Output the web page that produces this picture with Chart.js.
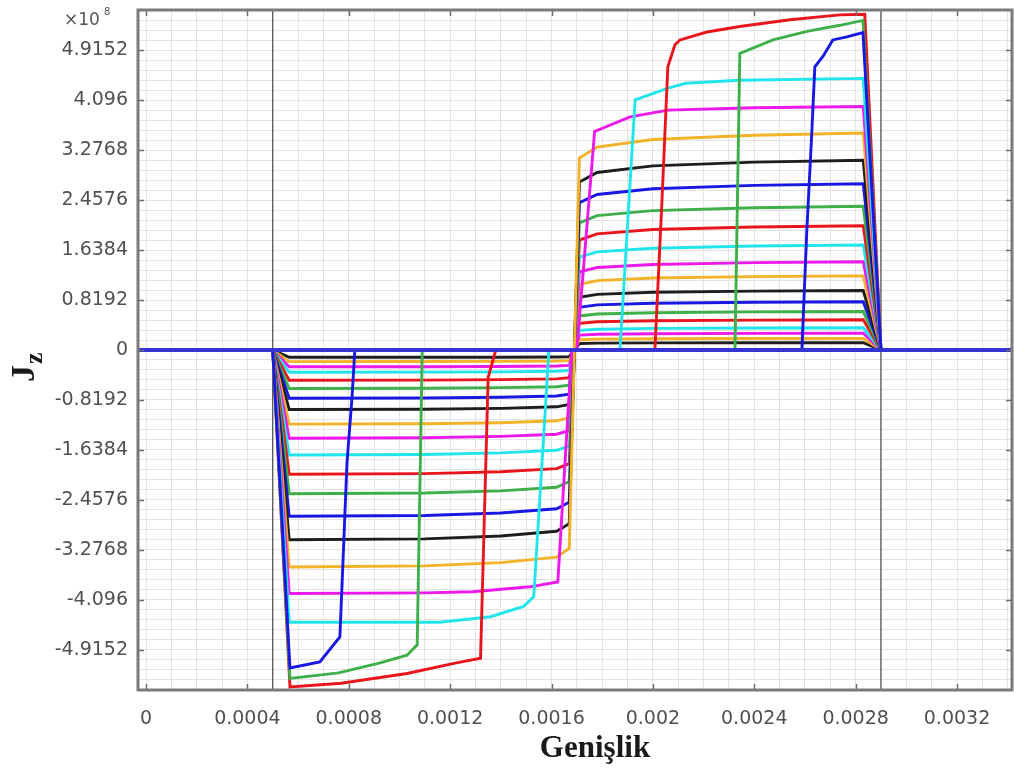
<!DOCTYPE html>
<html>
<head>
<meta charset="utf-8">
<script src="https://cdn.jsdelivr.net/npm/chart.js@4.4.1/dist/chart.umd.min.js"></script>
<style>
    html, body { margin: 0; padding: 0; background: #fff; }
    #wrap { width: 1014px; height: 771px; }
</style>
</head>
<body>
<div id="wrap"><canvas id="chart" width="1014" height="771"></canvas></div>
<script>
// axis range (x in metres, Jz in units of 1e8)
const xMin = -0.0000316, xMax = 0.003417;
const yMin = -5.5706, yMax = 5.5706;

const xTickValues = [0, 0.0004, 0.0008, 0.0012, 0.0016, 0.002, 0.0024, 0.0028, 0.0032];
const xTickLabels = ['0', '0.0004', '0.0008', '0.0012', '0.0016', '0.002', '0.0024', '0.0028', '0.0032'];
const yTickValues = [-4.9152, -4.096, -3.2768, -2.4576, -1.6384, -0.8192, 0, 0.8192, 1.6384, 2.4576, 3.2768, 4.096, 4.9152];
const yTickLabels = ['-4.9152', '-4.096', '-3.2768', '-2.4576', '-1.6384', '-0.8192', '0', '0.8192', '1.6384', '2.4576', '3.2768', '4.096', '4.9152'];

// conductor edges (thin vertical lines)
const edgeLeft = 0.0005, edgeRight = 0.0029;

// shared x grid for the fully penetrated profiles
const xGrid = [0, 0.0005, 0.000565, 0.0011, 0.0014, 0.00162, 0.00167, 0.00171, 0.00178, 0.002, 0.0024, 0.00283, 0.0029, 0.00342];

const jz01 = [0, 0, -0.12, -0.119, -0.118, -0.115, -0.11, 0.106, 0.112, 0.116, 0.119, 0.12, 0, 0];
const jz02 = [0, 0, -0.19, -0.189, -0.186, -0.181, -0.174, 0.168, 0.178, 0.184, 0.188, 0.19, 0, 0];
const jz03 = [0, 0, -0.275, -0.274, -0.27, -0.263, -0.252, 0.243, 0.257, 0.267, 0.272, 0.275, 0, 0];
const jz04 = [0, 0, -0.365, -0.363, -0.358, -0.349, -0.334, 0.323, 0.341, 0.354, 0.361, 0.365, 0, 0];
const jz05 = [0, 0, -0.495, -0.493, -0.485, -0.473, -0.453, 0.438, 0.463, 0.48, 0.49, 0.495, 0, 0];
const jz06 = [0, 0, -0.63, -0.627, -0.617, -0.602, -0.576, 0.558, 0.589, 0.611, 0.624, 0.63, 0, 0];
const jz07 = [0, 0, -0.79, -0.786, -0.774, -0.754, -0.723, 0.699, 0.739, 0.766, 0.782, 0.79, 0, 0];
const jz08 = [0, 0, -0.975, -0.97, -0.956, -0.931, -0.892, 0.863, 0.912, 0.946, 0.965, 0.975, 0, 0];
const jz09 = [0, 0, -1.215, -1.209, -1.191, -1.16, -1.112, 1.075, 1.136, 1.179, 1.203, 1.215, 0, 0];
const jz10 = [0, 0, -1.445, -1.438, -1.416, -1.38, -1.322, 1.279, 1.351, 1.402, 1.431, 1.445, 0, 0];
const jz11 = [0, 0, -1.72, -1.711, -1.686, -1.643, -1.574, 1.522, 1.608, 1.668, 1.703, 1.72, 0, 0];
const jz12 = [0, 0, -2.035, -2.025, -1.994, -1.943, -1.862, 1.801, 1.903, 1.974, 2.015, 2.035, 0, 0];
const jz13 = [0, 0, -2.355, -2.343, -2.308, -2.249, -2.155, 2.084, 2.202, 2.284, 2.331, 2.355, 0, 0];
const jz14 = [0, 0, -2.725, -2.711, -2.671, -2.602, -2.493, 2.412, 2.548, 2.643, 2.698, 2.725, 0, 0];
const jz15 = [0, 0, -3.11, -3.094, -3.048, -2.97, -2.846, 2.752, 2.908, 3.017, 3.079, 3.11, 0, 0];
const jz16 = [0, 0, -3.555, -3.537, -3.484, -3.395, -3.253, 3.146, 3.324, 3.448, 3.519, 3.555, 0, 0];

// partially penetrated profiles (own x points)
const jz17x = [0, 0.0005, 0.000565, 0.0011, 0.00129, 0.001515, 0.001625, 0.00168, 0.0017, 0.00177, 0.00191, 0.00206, 0.0024, 0.00283, 0.0029, 0.00342];
const jz17y = [0, 0, -3.99, -3.98, -3.96, -3.88, -3.8, 0, 0, 3.58, 3.82, 3.93, 3.97, 3.99, 0, 0];

const jz18x = [0, 0.0005, 0.000565, 0.00116, 0.00136, 0.00149, 0.00153, 0.00159, 0.00187, 0.00193, 0.00206, 0.00213, 0.00234, 0.00283, 0.0029, 0.00342];
const jz18y = [0, 0, -4.46, -4.46, -4.37, -4.2, -4.04, 0, 0, 4.1, 4.29, 4.37, 4.42, 4.45, 0, 0];

const jz19x = [0, 0.0005, 0.000568, 0.00077, 0.00103, 0.00122, 0.00132, 0.00135, 0.00138, 0.002008, 0.002036, 0.002059, 0.002087, 0.002107, 0.002213, 0.002343, 0.002541, 0.002738, 0.002836, 0.0029, 0.00342];
const jz19y = [0, 0, -5.52, -5.46, -5.3, -5.13, -5.05, -0.45, 0, 0, 2.46, 4.64, 5.0, 5.08, 5.21, 5.3, 5.41, 5.49, 5.5, 0, 0];

const jz20x = [0, 0.0005, 0.000568, 0.00076, 0.00092, 0.00103, 0.00107, 0.00109, 0.002324, 0.002343, 0.002474, 0.002608, 0.002738, 0.002829, 0.0029, 0.00342];
const jz20y = [0, 0, -5.38, -5.29, -5.13, -5.0, -4.83, 0, 0, 4.86, 5.08, 5.22, 5.32, 5.4, 0, 0];

const jz21x = [0, 0.0005, 0.000568, 0.000686, 0.000765, 0.000777, 0.000793, 0.000813, 0.000824, 0.002588, 0.002607, 0.002627, 0.002639, 0.002671, 0.00271, 0.002765, 0.002829, 0.0029, 0.00342];
const jz21y = [0, 0, -5.21, -5.11, -4.7, -3.49, -1.85, -0.77, 0, 0, 1.92, 3.56, 4.64, 4.81, 5.08, 5.13, 5.2, 0, 0];

const RED = '#e8161c', GREEN = '#3faf4a', BLUE = '#1818e2', CYAN = '#22e4ec',
    MAGENTA = '#ec18ec', ORANGE = '#f3b227', BLACK = '#1e1e1e';

const curves = [
    [xGrid, jz01, BLACK], [xGrid, jz02, ORANGE], [xGrid, jz03, MAGENTA], [xGrid, jz04, CYAN],
    [xGrid, jz05, RED], [xGrid, jz06, GREEN], [xGrid, jz07, BLUE], [xGrid, jz08, BLACK],
    [xGrid, jz09, ORANGE], [xGrid, jz10, MAGENTA], [xGrid, jz11, CYAN], [xGrid, jz12, RED],
    [xGrid, jz13, GREEN], [xGrid, jz14, BLUE], [xGrid, jz15, BLACK], [xGrid, jz16, ORANGE],
    [jz17x, jz17y, MAGENTA], [jz18x, jz18y, CYAN], [jz19x, jz19y, RED],
    [jz20x, jz20y, GREEN], [jz21x, jz21y, BLUE],
];

function line(xs, ys, color, width) {
    return {
        data: xs.map((x, i) => ({x: x, y: ys[i]})),
        borderColor: color,
        borderWidth: width,
        pointRadius: 0,
        fill: false,
        tension: 0,
        showLine: true,
    };
}

const datasets = [line([xMin, xMax], [0, 0], '#3434d4', 3.8)];
for (let i = curves.length - 1; i >= 0; i--) {
    datasets.push(line(curves[i][0], curves[i][1], curves[i][2], 2.9));
}
datasets.push(line([edgeLeft, edgeLeft], [yMin, yMax], '#4a4a4a', 1.2));
datasets.push(line([edgeRight, edgeRight], [yMin, yMax], '#4a4a4a', 1.2));

const isMajor = (list, v) => list.findIndex(t => Math.abs(t - v) < 1e-9);

// box, inward tick marks and axis titles
const decor = {
    id: 'decor',
    afterDraw(chart) {
        const {ctx, chartArea: a, scales} = chart;
        ctx.save();
        ctx.strokeStyle = '#6e6e6e';
        ctx.lineWidth = 1.5;
        ctx.beginPath();
        xTickValues.forEach(v => {
            const px = Math.round(scales.x.getPixelForValue(v)) + 0.5;
            ctx.moveTo(px, a.bottom); ctx.lineTo(px, a.bottom - 6);
            ctx.moveTo(px, a.top); ctx.lineTo(px, a.top + 6);
        });
        yTickValues.forEach(v => {
            const py = Math.round(scales.y.getPixelForValue(v)) + 0.5;
            ctx.moveTo(a.left, py); ctx.lineTo(a.left + 6, py);
            ctx.moveTo(a.right, py); ctx.lineTo(a.right - 6, py);
        });
        ctx.stroke();

        ctx.strokeStyle = '#7a7a7a';
        ctx.lineWidth = 3;
        ctx.strokeRect(a.left, a.top, a.right - a.left, a.bottom - a.top);

        // exponent
        ctx.fillStyle = '#555';
        ctx.font = '17px "DejaVu Sans"';
        ctx.textBaseline = 'alphabetic';
        ctx.textAlign = 'left';
        ctx.fillText('\u00d710', 64, 25);
        ctx.font = '10px "DejaVu Sans"';
        ctx.fillText('8', 104, 15);

        // x title
        ctx.fillStyle = '#1a1a1a';
        ctx.font = 'bold 31px "Liberation Serif"';
        ctx.textAlign = 'center';
        ctx.fillText('Genişlik', 595, 757);

        // y title, rotated
        ctx.translate(34, 382);
        ctx.rotate(-Math.PI / 2);
        ctx.textAlign = 'left';
        ctx.font = 'bold 34px "Liberation Serif"';
        ctx.fillText('J', 0, 0);
        const w = ctx.measureText('J').width;
        ctx.font = 'bold 26px "Liberation Serif"';
        ctx.fillText('z', w + 1, 8);
        ctx.restore();
    }
};

new Chart(document.getElementById('chart'), {
    type: 'scatter',
    data: {datasets: datasets},
    options: {
        responsive: false,
        animation: false,
        devicePixelRatio: 1,
        layout: {padding: {top: 10, right: 2, left: 0, bottom: 0}},
        plugins: {legend: {display: false}, tooltip: {enabled: false}},
        scales: {
            x: {
                type: 'linear',
                min: xMin,
                max: xMax,
                afterBuildTicks: (s) => {
                    const t = [];
                    for (let i = 0; i <= 34; i++) t.push({value: +(i * 0.0001).toFixed(7)});
                    s.ticks = t;
                },
                afterFit: (s) => {
                    s.height = 81;
                    s.paddingLeft = 0;
                    s.paddingRight = 0;
                },
                border: {display: false},
                grid: {color: '#e4e4e4', lineWidth: 1, drawTicks: false},
                ticks: {
                    autoSkip: false,
                    maxRotation: 0,
                    padding: 18,
                    color: '#505050',
                    font: {family: 'DejaVu Sans', size: 19},
                    callback: (v) => {
                        const k = isMajor(xTickValues, v);
                        return k >= 0 ? xTickLabels[k] : '';
                    }
                }
            },
            y: {
                type: 'linear',
                min: yMin,
                max: yMax,
                afterBuildTicks: (s) => {
                    const t = [];
                    for (let i = -33; i <= 33; i++) t.push({value: +(i * 0.16384).toFixed(6)});
                    s.ticks = t;
                },
                afterFit: (s) => {
                    s.width = 138;
                    s.paddingTop = 0;
                    s.paddingBottom = 0;
                },
                border: {display: false},
                grid: {color: '#e4e4e4', lineWidth: 1, drawTicks: false},
                ticks: {
                    autoSkip: false,
                    padding: 10,
                    color: '#505050',
                    font: {family: 'DejaVu Sans', size: 19},
                    callback: (v) => {
                        const k = isMajor(yTickValues, v);
                        return k >= 0 ? yTickLabels[k] : '';
                    }
                }
            }
        }
    },
    plugins: [decor]
});
</script>
</body>
</html>
